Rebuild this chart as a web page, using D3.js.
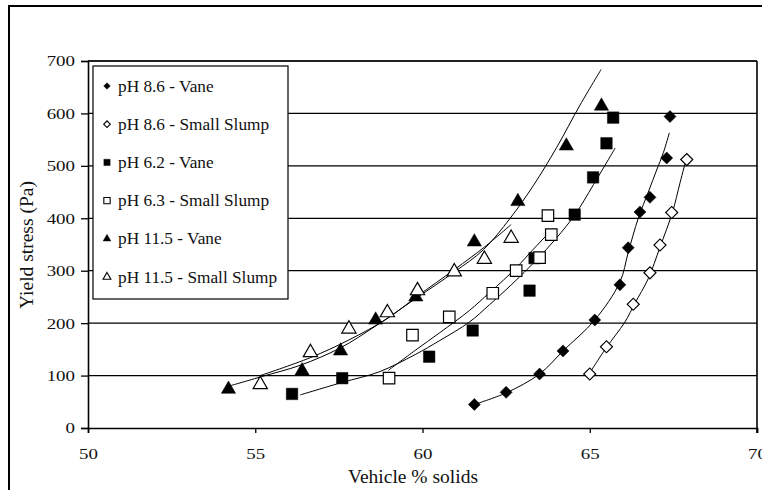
<!DOCTYPE html>
<html>
<head>
<meta charset="utf-8">
<script src="https://d3js.org/d3.v7.min.js"></script>
<style>
body{margin:0;background:#fff;}
svg{display:block;font-family:'Liberation Serif','Times New Roman',serif;}
</style>
</head>
<body>
<div class="chart-container"></div>
<script>
//tick values
const xTicks = [50,55,60,65,70];
const yTicks = [0,100,200,300,400,500,600,700];

//legend labels, same order as the figure
const seriesLabels = ['pH 8.6 - Vane','pH 8.6 - Small Slump','pH 6.2 - Vane','pH 6.3 - Small Slump','pH 11.5 - Vane','pH 11.5 - Small Slump'];

//measured points [vehicle % solids, yield stress Pa]
const ph86Vane = [[61.55,45],[62.5,68],[63.5,103],[64.2,147],[65.15,206],[65.9,273],[66.15,344],[66.5,412],[66.8,440],[67.3,515],[67.4,594]];
const ph86Slump = [[65.0,103],[65.5,155],[66.3,236],[66.8,296],[67.1,349],[67.45,411],[67.9,512]];
const ph62Vane = [[56.1,65],[57.6,95],[60.2,136],[61.5,186],[63.2,262],[63.35,324],[64.55,407],[65.1,478],[65.5,543],[65.7,592]];
const ph63Slump = [[59.0,95],[59.7,177],[60.8,212],[62.1,257],[62.8,300],[63.5,325],[63.85,369],[63.75,405]];
const ph115Vane = [[54.2,74],[56.4,109],[57.55,147],[58.6,206],[59.8,250],[61.55,355],[62.85,432],[64.3,538],[65.35,614]];
const ph115Slump = [[55.15,83],[56.65,144],[57.8,189],[58.95,220],[59.85,262],[60.95,298],[61.85,322],[62.65,362]];

//trend curves
const ph86VaneFit = [[61.55,45],[62.5,67],[63.5,103],[64.2,147],[65.15,206],[65.9,278],[66.15,335],[66.45,400],[66.75,450],[67.0,492],[67.2,525],[67.38,563]];
const ph86SlumpFit = [[64.98,103],[65.48,152],[66.05,202],[66.35,238],[66.75,285],[67.1,345],[67.47,411],[67.7,468],[67.88,512]];
const ph62VaneFit = [[56.34,63],[57.6,87],[58.7,107],[59.78,140],[60.52,167],[61.4,202],[62.0,235],[62.67,274],[63.4,320],[64.0,362],[64.56,407],[65.11,464],[65.76,534]];
const ph63SlumpFit = [[58.98,110],[59.78,148],[60.52,182],[61.4,224],[62.0,258],[62.42,282],[62.81,306],[63.3,340],[63.76,371],[63.91,381]];
const ph115VaneFit = [[54.22,80],[55.19,98],[56.36,120],[57.55,153],[58.61,195],[59.8,247],[60.96,298],[61.82,340],[62.62,400],[63.32,463],[64.01,535],[64.71,616],[65.34,684]];
const ph115SlumpFit = [[55.15,100],[56.64,134],[57.8,168],[58.93,208],[59.86,252],[60.97,303],[61.85,345],[62.65,388]];

function YieldChart(){

    let W = 762;
    let H = 490;
    let plot = {l:88,r:757,t:61,b:428};
    let series = [];

    function exports(container){
        const svg = container.append('svg')
            .attr('width',W)
            .attr('height',H)
            .attr('font-family',"'Liberation Serif','Times New Roman',serif");

        svg.append('rect')
            .attr('width',W).attr('height',H)
            .attr('fill','#fff');

        //outer frame, runs off the right and bottom edges
        svg.append('rect')
            .attr('x',9).attr('y',6)
            .attr('width',W).attr('height',H)
            .attr('fill','none')
            .attr('stroke','#000')
            .attr('stroke-width',2);

        const scaleX = d3.scaleLinear()
            .domain(d3.extent(xTicks))
            .range([plot.l,plot.r]);
        const scaleY = d3.scaleLinear()
            .domain(d3.extent(yTicks))
            .range([plot.b,plot.t]);

        //gridlines
        svg.append('g')
            .selectAll('line')
            .data(yTicks.slice(1))
            .join('line')
            .attr('x1',plot.l).attr('x2',plot.r)
            .attr('y1',d => scaleY(d)).attr('y2',d => scaleY(d))
            .attr('stroke','#000')
            .attr('stroke-width',1.2);

        //axes
        const axisX = d3.axisBottom(scaleX)
            .tickValues(xTicks)
            .tickSize(5);
        const axisY = d3.axisLeft(scaleY)
            .tickValues(yTicks)
            .tickSize(7);

        const gx = svg.append('g')
            .attr('transform',`translate(0,${plot.b})`)
            .call(axisX);
        const gy = svg.append('g')
            .attr('transform',`translate(${plot.l},0)`)
            .call(axisY);
        [gx,gy].forEach(g => {
            g.attr('font-family',null);
            g.select('.domain').attr('stroke','#000').attr('stroke-width',1.6);
            g.selectAll('.tick line').attr('stroke','#000').attr('stroke-width',1.3);
            g.selectAll('.tick text')
                .attr('fill','#111')
                .attr('font-size',15.5);
        });
        //the figure's digits are a bit wide, stretch them
        gx.selectAll('.tick text')
            .attr('y',0)
            .attr('dy','0.71em')
            .attr('transform','translate(0,20) scale(1.22,1)');
        gy.selectAll('.tick text')
            .attr('x',0)
            .attr('transform','translate(-13,0) scale(1.22,1)');

        //top and right edges of the plot frame
        svg.append('line')
            .attr('x1',plot.l).attr('x2',plot.r)
            .attr('y1',plot.t).attr('y2',plot.t)
            .attr('stroke','#000').attr('stroke-width',1.6);
        svg.append('line')
            .attr('x1',plot.r).attr('x2',plot.r)
            .attr('y1',plot.t).attr('y2',plot.b + 5)
            .attr('stroke','#000').attr('stroke-width',1.6);

        //axis titles
        svg.append('text')
            .attr('x',413)
            .attr('y',483)
            .attr('text-anchor','middle')
            .attr('font-size',19.5)
            .attr('fill','#111')
            .text('Vehicle % solids');
        svg.append('text')
            .attr('transform',`translate(33,245) rotate(-90)`)
            .attr('text-anchor','middle')
            .attr('font-size',19.5)
            .attr('fill','#111')
            .text('Yield stress (Pa)');

        //trend curves
        const line = d3.line()
            .x(d => scaleX(d[0]))
            .y(d => scaleY(d[1]))
            .curve(d3.curveCatmullRom.alpha(0.5));
        svg.append('g')
            .selectAll('path')
            .data(series)
            .join('path')
            .attr('d',d => line(d.fit))
            .attr('fill','none')
            .attr('stroke','#000')
            .attr('stroke-width',1);

        //markers
        series.forEach(s => {
            svg.append('g')
                .selectAll('path')
                .data(s.points)
                .join('path')
                .attr('d',symbolPath(s.shape,1))
                .attr('transform',d => `translate(${scaleX(d[0])},${scaleY(d[1])})${s.shape === 'diamond' ? ' rotate(45)' : ''}`)
                .attr('fill',s.filled ? '#000' : '#fff')
                .attr('stroke','#000')
                .attr('stroke-width',s.filled ? 0.5 : 1.2);
        });

        //legend
        const legend = svg.append('g')
            .attr('transform','translate(93,66)');
        legend.append('rect')
            .attr('width',195).attr('height',233)
            .attr('fill','#fff')
            .attr('stroke','#000')
            .attr('stroke-width',1.2);
        const rows = legend.selectAll('.row')
            .data(series)
            .join('g')
            .attr('class','row')
            .attr('transform',(d,i) => `translate(14,${20 + i * 38.2})`);
        rows.append('path')
            .attr('d',d => symbolPath(d.shape,0.55))
            .attr('transform',d => d.shape === 'diamond' ? 'rotate(45)' : '')
            .attr('fill',d => d.filled ? '#000' : '#fff')
            .attr('stroke','#000')
            .attr('stroke-width',d => d.filled ? 0.4 : 1.1);
        rows.append('text')
            .attr('transform','translate(11,0) scale(1.08,1)')
            .attr('dy','0.35em')
            .attr('font-size',16)
            .attr('fill','#111')
            .text(d => d.label);
    }

    function symbolPath(shape,k){
        if(shape === 'square'){
            return d3.symbol().type(d3.symbolSquare).size(132 * k * k)();
        }else if(shape === 'diamond'){
            return d3.symbol().type(d3.symbolSquare).size(72 * k * k)();
        }
        return d3.symbol().type(d3.symbolTriangle).size(88 * k * k)();
    }

    exports.series = function(_){
        if(!_){
            return series;
        }
        series = _;
        return this;
    }

    return exports;
}

const chart = YieldChart()
    .series([
        {label:seriesLabels[0],points:ph86Vane,fit:ph86VaneFit,shape:'diamond',filled:true},
        {label:seriesLabels[1],points:ph86Slump,fit:ph86SlumpFit,shape:'diamond',filled:false},
        {label:seriesLabels[2],points:ph62Vane,fit:ph62VaneFit,shape:'square',filled:true},
        {label:seriesLabels[3],points:ph63Slump,fit:ph63SlumpFit,shape:'square',filled:false},
        {label:seriesLabels[4],points:ph115Vane,fit:ph115VaneFit,shape:'triangle',filled:true},
        {label:seriesLabels[5],points:ph115Slump,fit:ph115SlumpFit,shape:'triangle',filled:false}
    ]);

chart(d3.select('.chart-container'));
</script>
</body>
</html>
